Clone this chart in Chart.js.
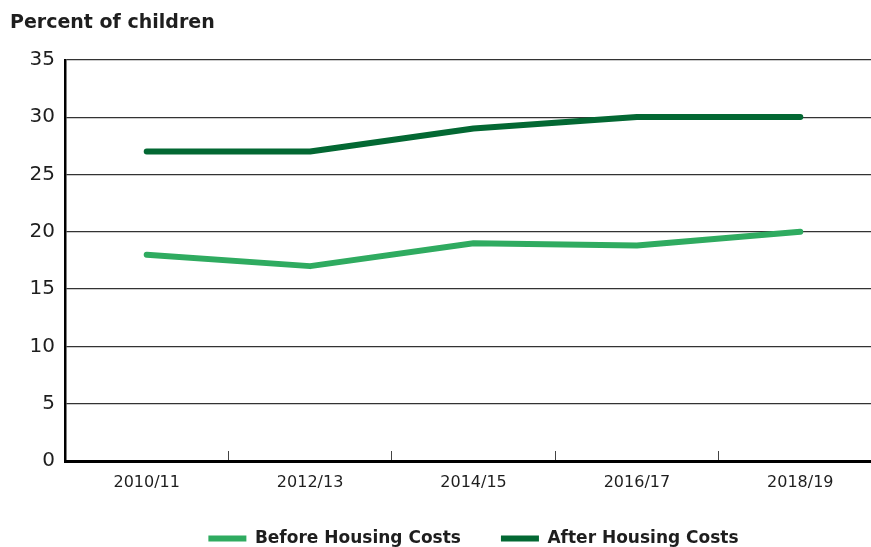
<!DOCTYPE html>
<html>
<head>
<meta charset="utf-8">
<script src="https://cdn.jsdelivr.net/npm/chart.js@4"></script>
<style>
  html, body { margin: 0; padding: 0; background: #fff; overflow: hidden; }
  #wrap { position: relative; width: 882px; height: 557px; }
</style>
</head>
<body>
<div id="wrap"><canvas id="c"></canvas></div>
<script>
const categories = ['2010/11', '2012/13', '2014/15', '2016/17', '2018/19'];
const beforeHousingCosts = [18, 17, 19, 18.8, 20];
const afterHousingCosts = [27, 27, 29, 30, 30];
const seriesNames = ['Before Housing Costs', 'After Housing Costs'];
const yTitle = 'Percent of children';

const FONT = '"DejaVu Sans"';
const TEXT = '#1e1e1e';
const LEGEND_PAD = 40;

new Chart(document.getElementById('c'), {
  type: 'line',
  data: {
    labels: categories,
    datasets: [
      {
        label: seriesNames[0],
        data: beforeHousingCosts,
        borderColor: '#2fab60',
        backgroundColor: '#2fab60',
        borderWidth: 6,
        borderCapStyle: 'round',
        borderJoinStyle: 'round',
        pointRadius: 0,
        pointHoverRadius: 0,
        tension: 0
      },
      {
        label: seriesNames[1],
        data: afterHousingCosts,
        borderColor: '#036833',
        backgroundColor: '#036833',
        borderWidth: 6,
        borderCapStyle: 'round',
        borderJoinStyle: 'round',
        pointRadius: 0,
        pointHoverRadius: 0,
        tension: 0
      }
    ]
  },
  options: {
    responsive: true,
    maintainAspectRatio: false,
    animation: false,
    layout: { padding: { left: 10, right: 0, top: 0, bottom: 0 } },
    plugins: {
      tooltip: { enabled: false },
      title: {
        display: true,
        text: yTitle,
        align: 'start',
        color: TEXT,
        font: { family: FONT, size: 19, weight: 'bold' },
        padding: { top: 12, bottom: 25 }
      },
      legend: {
        position: 'bottom',
        fullSize: false,
        labels: {
          usePointStyle: true,
          pointStyle: 'line',
          pointStyleWidth: 38,
          padding: LEGEND_PAD,
          color: TEXT,
          font: { family: FONT, size: 17, weight: 'bold' }
        }
      }
    },
    scales: {
      x: {
        offset: true,
        afterFit: (scale) => { scale.height = 69 - LEGEND_PAD; },
        grid: {
          offset: true,
          drawOnChartArea: false,
          drawTicks: true,
          tickLength: -10,
          tickColor: '#444',
          tickWidth: 1
        },
        border: { display: true, color: '#000', width: 3 },
        ticks: {
          padding: 22,
          color: TEXT,
          font: { family: FONT, size: 16 }
        }
      },
      y: {
        min: 0,
        max: 35,
        afterFit: (scale) => { scale.width = 55; },
        grid: {
          color: '#333',
          lineWidth: 1.2,
          drawTicks: false
        },
        border: { display: true, color: '#000', width: 2.5 },
        ticks: {
          stepSize: 5,
          padding: 10,
          color: TEXT,
          font: { family: FONT, size: 20 }
        }
      }
    }
  }
});
</script>
</body>
</html>
